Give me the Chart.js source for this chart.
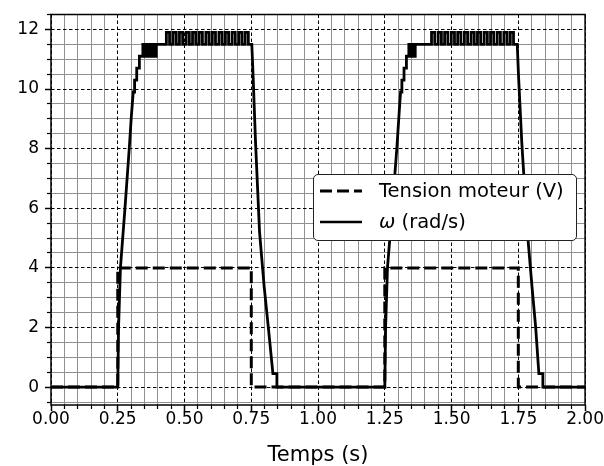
<!DOCTYPE html>
<html><head><meta charset="utf-8">
<script src="https://cdn.jsdelivr.net/npm/chart.js@4/dist/chart.umd.min.js"></script>
<style>
html,body{margin:0;padding:0;background:#fff;}
#wrap{position:relative;width:604px;height:466px;}
#legend{position:absolute;left:313px;top:174px;width:262px;height:65px;border:1.2px solid #222;border-radius:5px;background:#fff;font-family:'DejaVu Sans';font-size:19.5px;color:#000;}
.row{position:absolute;left:0;height:30px;display:flex;align-items:center;}
.row svg{margin-left:6px;display:block;}
.row span{margin-left:17px;white-space:nowrap;}
</style></head>
<body><div id="wrap"><canvas id="c" width="604" height="466"></canvas>
<div id="legend">
 <div class="row" style="top:0.5px"><svg width="42" height="10"><line x1="0" y1="5" x2="42" y2="5" stroke="#000" stroke-width="3" stroke-dasharray="12 5"/></svg><span id="lab0"></span></div>
 <div class="row" style="top:31.5px"><svg width="42" height="10"><line x1="0" y1="5" x2="42" y2="5" stroke="#000" stroke-width="2.5"/></svg><span id="lab1"><i>ω</i> (rad/s)</span></div>
</div></div>
<script>
// ---- data ----
const xTitle = 'Temps (s)';
const seriesLabels = ['Tension moteur (V)', 'ω (rad/s)'];
const xTickStep = 0.25, xMinorStep = 0.05;
const yTickStep = 2, yMinorStep = 0.5;
const xMin = 0, xMax = 2, yMin = -0.6, yMax = 12.5;

// Motor voltage (V): time / value
const voltageTimes  = [0, 0.25, 0.25, 0.75, 0.75, 1.25, 1.25, 1.75, 1.75, 2.0];
const voltageValues = [0, 0,    4,    4,    0,    0,    4,    4,    0,    0];

// omega (rad/s): rise of cycle 1 [t, value]
const omegaRise1 = [
 [0.000,0.0],[0.250,0.0],[0.253,2.0],[0.260,4.0],[0.277,6.0],[0.293,8.0],[0.301,9.1],[0.308,9.9],
 [0.313,9.9],[0.313,10.3],[0.321,10.3],[0.321,10.7],[0.331,10.7],[0.331,11.1],[0.344,11.1],[0.344,11.5],
 [0.350,11.5],[0.350,11.1],[0.356,11.1],[0.356,11.5],[0.362,11.5],[0.362,11.1],[0.368,11.1],[0.368,11.5],
 [0.375,11.5],[0.375,11.1],[0.381,11.1],[0.381,11.5],[0.388,11.5],[0.388,11.1],[0.394,11.1],[0.394,11.5]
];
const pulseUp1   = [0.432,0.457,0.481,0.506,0.530,0.555,0.580,0.604,0.629,0.653,0.678,0.703,0.727];
const pulseDown1 = [0.444,0.469,0.493,0.518,0.542,0.567,0.592,0.616,0.641,0.665,0.690,0.715,0.739];
const omegaFall1 = [
 [0.752,11.5],[0.757,10.4],[0.766,8.2],[0.781,5.2],[0.798,3.4],[0.815,1.9],[0.831,0.45],[0.846,0.45],[0.846,0.0]
];
// cycle 2
const omegaRise2 = [
 [1.250,0.0],[1.253,2.0],[1.260,4.0],[1.278,6.0],[1.295,8.0],[1.303,9.1],[1.309,9.9],
 [1.314,9.9],[1.314,10.3],[1.322,10.3],[1.322,10.7],[1.331,10.7],[1.331,11.1],[1.340,11.1],[1.340,11.5],
 [1.346,11.5],[1.346,11.1],[1.352,11.1],[1.352,11.5],[1.358,11.5],[1.358,11.1],[1.364,11.1],[1.364,11.5]
];
const pulseUp2   = [1.425,1.450,1.474,1.499,1.523,1.548,1.573,1.597,1.622,1.646,1.671,1.696,1.720];
const pulseDown2 = [1.437,1.462,1.486,1.511,1.535,1.560,1.585,1.609,1.634,1.658,1.683,1.708,1.732];
const omegaFall2 = [
 [1.746,11.5],[1.751,10.4],[1.763,8.2],[1.784,5.2],[1.801,3.4],[1.815,2.0],[1.827,0.45],[1.842,0.45],[1.842,0.0],[2.000,0.0]
];
const plateauLow = 11.5, plateauHigh = 11.9;

// ---- build datasets ----
function pulses(ups, downs) {
  const pts = [];
  ups.forEach((u, i) => {
    pts.push({x:u, y:plateauLow}, {x:u, y:plateauHigh}, {x:downs[i], y:plateauHigh}, {x:downs[i], y:plateauLow});
  });
  return pts;
}
const pairs = a => a.map(p => ({x:p[0], y:p[1]}));
const omegaPts = [].concat(pairs(omegaRise1), pulses(pulseUp1, pulseDown1), pairs(omegaFall1),
                           pairs(omegaRise2), pulses(pulseUp2, pulseDown2), pairs(omegaFall2));
const voltagePts = voltageTimes.map((t, i) => ({x:t, y:voltageValues[i]}));

document.getElementById('lab0').textContent = seriesLabels[0];

const FONT = 'DejaVu Sans';
Chart.defaults.font.family = FONT;
Chart.defaults.color = '#000';
const isMult = (v, s) => Math.abs(v / s - Math.round(v / s)) < 1e-6;

const framePlugin = {
  id: 'frame',
  afterDatasetsDraw(chart) {
    const {ctx, chartArea: a} = chart;
    ctx.save();
    ctx.strokeStyle = '#000';
    ctx.lineWidth = 1.5;
    ctx.strokeRect(a.left, a.top, a.right - a.left, a.bottom - a.top);
    ctx.restore();
  }
};

new Chart(document.getElementById('c'), {
  type: 'line',
  data: {
    datasets: [
      {label: seriesLabels[0], data: voltagePts, borderColor: '#000', borderWidth: 3, borderDash: [12, 5],
       pointRadius: 0, fill: false, tension: 0, xAxisID: 'x', yAxisID: 'y', order: 1},
      {label: seriesLabels[1], data: omegaPts, borderColor: '#000', borderWidth: 2.8,
       pointRadius: 0, fill: false, tension: 0, xAxisID: 'x', yAxisID: 'y', order: 0}
    ]
  },
  options: {
    responsive: false,
    animation: false,
    events: [],
    layout: {autoPadding: false, padding: {left: 0, right: 18, top: 12, bottom: 0}},
    plugins: {legend: {display: false}, tooltip: {enabled: false}},
    scales: {
      xMinor: {
        type: 'linear', position: 'bottom', min: xMin, max: xMax, weight: 0,
        ticks: {display: false, stepSize: xMinorStep, includeBounds: false},
        grid: {color: '#909090', lineWidth: c => (c.tick && isMult(c.tick.value, xTickStep)) ? 0 : 1,
               drawTicks: true, tickLength: 4, tickColor: '#000',
               tickWidth: c => (c.tick && isMult(c.tick.value, xTickStep)) ? 0 : 1.2},
        border: {display: false},
        afterFit: s => { s.height = 0; }
      },
      yMinor: {
        type: 'linear', position: 'left', min: yMin, max: yMax, weight: 0,
        ticks: {display: false, stepSize: yMinorStep, includeBounds: false},
        grid: {color: '#909090', lineWidth: c => (c.tick && isMult(c.tick.value, yTickStep)) ? 0 : 1,
               drawTicks: true, tickLength: 4, tickColor: '#000',
               tickWidth: c => (c.tick && isMult(c.tick.value, yTickStep)) ? 0 : 1.2},
        border: {display: false},
        afterFit: s => { s.width = 0; }
      },
      x: {
        type: 'linear', position: 'bottom', min: xMin, max: xMax, weight: 1,
        ticks: {stepSize: xTickStep, includeBounds: false, callback: v => Number(v).toFixed(2),
                font: {family: FONT, size: 17, lineHeight: 1}, color: '#000', padding: 0,
                maxRotation: 0, autoSkip: false},
        grid: {color: '#000', lineWidth: 1, drawTicks: true, tickLength: 6, tickColor: '#000', tickWidth: 1.5},
        border: {display: false, dash: [3.5, 2.5]},
        title: {display: true, text: xTitle, color: '#000', font: {family: FONT, size: 21, lineHeight: 1.2},
                padding: {top: 0, bottom: -2}},
        afterFit: s => { s.height = 61; }
      },
      y: {
        type: 'linear', position: 'left', min: yMin, max: yMax, weight: 1,
        ticks: {stepSize: yTickStep, includeBounds: false, callback: v => String(v),
                font: {family: FONT, size: 17, lineHeight: 1}, color: '#000', padding: 6},
        grid: {color: '#000', lineWidth: 1, drawTicks: true, tickLength: 6, tickColor: '#000', tickWidth: 1.5},
        border: {display: false, dash: [3.5, 2.5]},
        afterFit: s => { s.width = 51; }
      }
    }
  },
  plugins: [framePlugin]
});
</script>
</body></html>
